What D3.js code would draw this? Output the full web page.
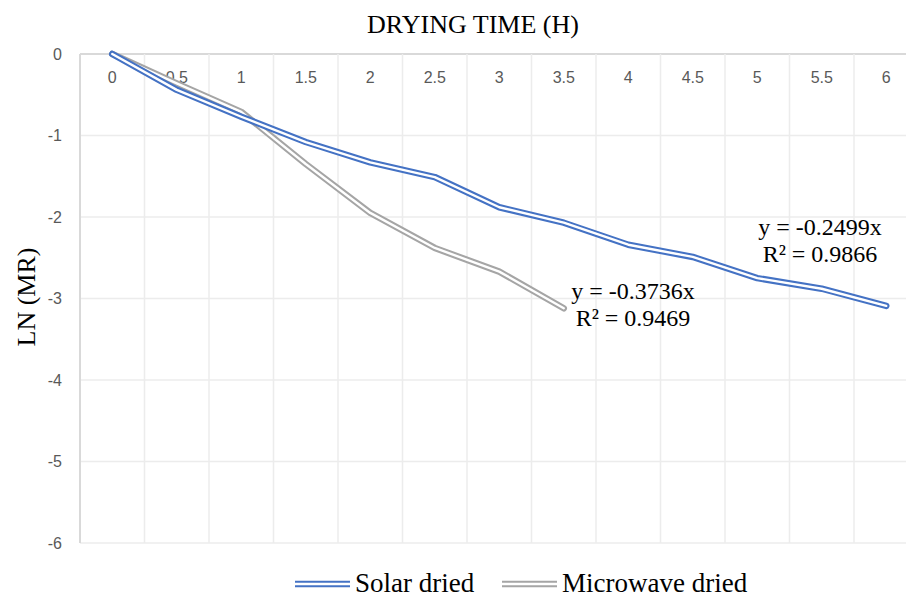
<!DOCTYPE html>
<html>
<head>
<meta charset="utf-8">
<script src="https://cdn.jsdelivr.net/npm/d3@7"></script>
<style>
  body { margin: 0; background: #fff; }
  svg { display: block; }
</style>
</head>
<body>
<script>
// data
var hours = ["0", "0.5", "1", "1.5", "2", "2.5", "3", "3.5", "4", "4.5", "5", "5.5", "6"];
var solarLn = [0, -0.44, -0.77, -1.08, -1.33, -1.51, -1.88, -2.07, -2.34, -2.49, -2.75, -2.88, -3.09];
var microwaveLn = [0, -0.36, -0.71, -1.35, -1.95, -2.38, -2.67, -3.12];
var yTicks = [0, -1, -2, -3, -4, -5, -6];
var seriesNames = ["Solar dried", "Microwave dried"];
var solarFit = ["y = -0.2499x", "R² = 0.9866"];
var microwaveFit = ["y = -0.3736x", "R² = 0.9469"];

var svgWidth = 906;
var svgHeight = 598;

var plotLeft = 80;
var plotRight = 918.5;   // plot runs past the right edge of the picture
var plotTop = 54;
var plotBottom = 543;

var serif = "'Liberation Serif', 'Times New Roman', serif";
var sans = "'Liberation Sans', Arial, sans-serif";

var blue = "#4472c4";
var grey = "#a5a5a5";

var svg = d3.select("body")
    .append("svg")
    .attr("width", svgWidth)
    .attr("height", svgHeight);

// scales
var xBand = d3.scaleBand()
    .domain(hours)
    .range([plotLeft, plotRight]);

var yLinearScale = d3.scaleLinear()
    .domain([-6, 0])
    .range([plotBottom, plotTop]);

var xMid = function(h) { return xBand(h) + xBand.bandwidth() / 2; };

// gridlines
var grid = svg.append("g");

grid.selectAll(".hgrid")
    .data(yTicks)
    .enter()
    .append("line")
    .attr("x1", plotLeft)
    .attr("x2", plotRight)
    .attr("y1", d => yLinearScale(d))
    .attr("y2", d => yLinearScale(d))
    .attr("stroke", d => d === 0 ? "#d9d9d9" : "#ececec")
    .attr("stroke-width", d => d === 0 ? 2 : 1.5);

grid.selectAll(".vgrid")
    .data(hours.slice(1))
    .enter()
    .append("line")
    .attr("x1", d => xBand(d))
    .attr("x2", d => xBand(d))
    .attr("y1", plotTop)
    .attr("y2", plotBottom)
    .attr("stroke", "#ececec")
    .attr("stroke-width", 1.5);

// left axis line
grid.append("line")
    .attr("x1", plotLeft)
    .attr("x2", plotLeft)
    .attr("y1", plotTop)
    .attr("y2", plotBottom)
    .attr("stroke", "#d9d9d9")
    .attr("stroke-width", 2);

// y axis labels (plain hyphen like the original)
var leftAxis = d3.axisLeft(yLinearScale)
    .tickValues(yTicks)
    .tickSize(0)
    .tickPadding(18)
    .tickFormat(d => String(d));

var yAxisG = svg.append("g")
    .attr("transform", `translate(${plotLeft}, 0)`)
    .call(leftAxis);
yAxisG.select(".domain").remove();
yAxisG.selectAll("text")
    .style("font-family", sans)
    .style("font-size", "16px")
    .attr("fill", "#595959");

// x axis labels sit just under the top axis
var topAxis = d3.axisBottom(xBand)
    .tickSize(0)
    .tickPadding(0);

var xAxisG = svg.append("g")
    .attr("transform", `translate(0, ${plotTop + 18})`)
    .call(topAxis);
xAxisG.select(".domain").remove();
xAxisG.selectAll("text")
    .style("font-family", sans)
    .style("font-size", "16px")
    .attr("fill", "#595959");

// double (compound) lines
var line = d3.line()
    .x((d, i) => xMid(hours[i]))
    .y(d => yLinearScale(d));

function doubleLine(values, color) {
    svg.append("path")
        .datum(values)
        .attr("d", line)
        .attr("fill", "none")
        .attr("stroke", color)
        .attr("stroke-width", 6.5)
        .attr("stroke-linejoin", "round")
        .attr("stroke-linecap", "round");
    svg.append("path")
        .datum(values)
        .attr("d", line)
        .attr("fill", "none")
        .attr("stroke", "#fff")
        .attr("stroke-width", 2.4)
        .attr("stroke-linejoin", "round")
        .attr("stroke-linecap", "round");
}

doubleLine(microwaveLn, grey);
doubleLine(solarLn, blue);

// trendline labels
function fitLabel(lines, x, y) {
    svg.append("text")
        .attr("text-anchor", "middle")
        .style("font-family", serif)
        .style("font-size", "24px")
        .attr("fill", "#000")
        .selectAll("tspan")
        .data(lines)
        .enter()
        .append("tspan")
        .attr("x", x)
        .attr("y", (d, i) => y + i * 27)
        .text(d => d);
}

fitLabel(microwaveFit, 633, 299);
fitLabel(solarFit, 820, 235);

// titles
svg.append("text")
    .attr("x", 473)
    .attr("y", 33)
    .attr("text-anchor", "middle")
    .style("font-family", serif)
    .style("font-size", "26px")
    .text("DRYING TIME (H)");

svg.append("text")
    .attr("transform", "translate(35, 297) rotate(-90)")
    .attr("text-anchor", "middle")
    .style("font-family", serif)
    .style("font-size", "26px")
    .text("LN (MR)");

// legend
var legendX = [295, 502];
var legend = svg.selectAll(".legend")
    .data(seriesNames)
    .enter()
    .append("g")
    .attr("transform", (d, i) => `translate(${legendX[i]}, 584)`);

legend.append("line")
    .attr("x1", 0)
    .attr("x2", 55)
    .attr("stroke", (d, i) => i === 0 ? blue : grey)
    .attr("stroke-width", 6.5);
legend.append("line")
    .attr("x1", 0)
    .attr("x2", 55)
    .attr("stroke", "#fff")
    .attr("stroke-width", 2.4);

legend.append("text")
    .attr("x", 60)
    .attr("y", 8)
    .style("font-family", serif)
    .style("font-size", "27px")
    .text(d => d);
</script>
</body>
</html>
